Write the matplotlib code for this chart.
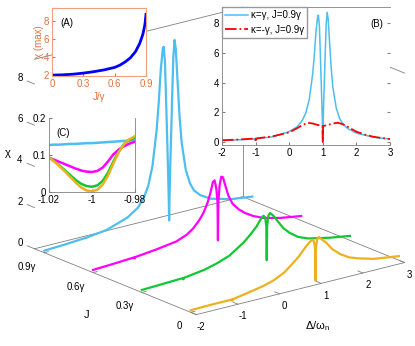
import matplotlib
matplotlib.use('Agg')
import matplotlib.pyplot as plt

plt.rcParams['font.family'] = ['Liberation Sans', 'DejaVu Sans']
plt.rcParams['axes.unicode_minus'] = False
plt.rcParams['mathtext.fontset'] = 'custom'
plt.rcParams['mathtext.rm'] = 'Liberation Sans'

# --- waterfall curves, chi vs detuning for four couplings J ---
J_levels = [0.9, 0.6, 0.3, 0.0]
colors = ['#4DBEEE', '#FF00FF', '#12C832', '#EDB120']

d_j09 = [-2, -1.5, -1.01, -1.0, -0.99, -0.5, 0, 0.25, 0.4, 0.5, 0.6, 0.7, 0.75, 0.8, 0.85,
         0.87, 0.9, 0.94, 0.97, 0.99, 1.0, 1.01, 1.03, 1.07, 1.1, 1.13, 1.16, 1.2, 1.25, 1.3,
         1.4, 1.5, 1.6, 1.75, 2.0, 2.5, 3.0]
chi_j09 = [0.1, 0.15, 0.22, 0.2, 0.22, 0.35, 0.7, 1.05, 1.5, 2.0, 2.9, 4.6, 5.9, 7.5, 8.5,
           8.55, 7.8, 5.0, 2.8, 1.2, 0.05, 1.2, 2.9, 5.8, 7.9, 8.75, 8.3, 6.8, 5.0, 3.7,
           2.3, 1.6, 1.2, 0.9, 0.6, 0.33, 0.2]

d_j06 = [-2, -1.5, -1.01, -1.0, -0.99, -0.5, 0, 0.25, 0.4, 0.55, 0.65, 0.75, 0.82, 0.88, 0.92,
         0.96, 0.99, 1.0, 1.01, 1.04, 1.08, 1.12, 1.18, 1.25, 1.35, 1.5, 1.65, 1.85, 2.1, 2.5, 3.0]
chi_j06 = [0.13, 0.18, 0.24, 0.18, 0.24, 0.35, 0.5, 0.7, 0.92, 1.25, 1.55, 2.0, 2.45, 2.95, 3.0,
           2.6, 1.9, 0.05, 1.9, 2.7, 3.1, 3.05, 2.6, 2.1, 1.65, 1.3, 1.05, 0.8, 0.58, 0.38, 0.22]

d_j03 = [-2, -1.5, -1.01, -1.0, -0.99, -0.5, -0.2, 0.1, 0.45, 0.6, 0.75, 0.85, 0.92, 0.96, 0.99,
         1.0, 1.01, 1.04, 1.08, 1.15, 1.25, 1.4, 1.55, 1.75, 2.0, 2.5, 3.0]
chi_j03 = [0.12, 0.16, 0.2, 0.13, 0.2, 0.34, 0.5, 0.72, 1.2, 1.48, 1.8, 2.1, 2.25, 2.15, 1.7,
           0.05, 1.7, 2.2, 2.3, 2.15, 1.85, 1.4, 1.1, 0.8, 0.6, 0.38, 0.22]

d_j00 = [-2, -1.5, -1.01, -1.0, -0.99, -0.5, -0.25, 0, 0.25, 0.4, 0.6, 0.75, 0.85, 0.92, 0.96,
         0.99, 1.0, 1.01, 1.04, 1.08, 1.15, 1.25, 1.4, 1.6, 1.8, 2.0, 2.4, 3.0]
chi_j00 = [0.1, 0.12, 0.12, 0.05, 0.12, 0.3, 0.4, 0.55, 0.8, 1.05, 1.4, 1.75, 1.95, 2.05, 1.95,
           1.6, 0.02, 1.6, 2.05, 2.1, 1.95, 1.75, 1.35, 1.0, 0.75, 0.6, 0.37, 0.2]

# inset B: kappa = -gamma, J = 0.9 gamma
d_red = [-2, -1.5, -1.01, -1.0, -0.99, -0.5, 0, 0.25, 0.4, 0.55, 0.7, 0.85, 0.99, 1.0, 1.01,
         1.15, 1.3, 1.45, 1.6, 1.8, 2.0, 2.25, 2.5, 2.75, 3.0]
chi_red = [0.12, 0.17, 0.24, 0.0, 0.24, 0.38, 0.65, 0.95, 1.15, 1.3, 1.25, 1.15, 1.08, 0.0, 1.08,
           1.15, 1.25, 1.3, 1.2, 0.95, 0.7, 0.5, 0.36, 0.27, 0.2]

# inset A: peak height vs J
J_scan = [0, 0.1, 0.2, 0.3, 0.4, 0.5, 0.6, 0.65, 0.7, 0.75, 0.8, 0.84, 0.87, 0.89, 0.9]
chi_max = [2.0, 2.03, 2.1, 2.22, 2.38, 2.58, 2.85, 3.1, 3.45, 3.9, 4.6, 5.5, 6.5, 7.6, 8.7]

# inset C: zoom near detuning -1
c_delta = [-1.02, -1.0175, -1.015, -1.0125, -1.01, -1.0075, -1.005, -1.0025, -1.0,
           -0.9975, -0.995, -0.9925, -0.99, -0.9875, -0.985, -0.9825, -0.98]
c_j09 = [0.127, 0.128, 0.128, 0.129, 0.13, 0.13, 0.131, 0.132, 0.132,
         0.133, 0.134, 0.135, 0.136, 0.137, 0.138, 0.139, 0.14]
c_j06 = [0.092, 0.087, 0.081, 0.075, 0.069, 0.063, 0.058, 0.055, 0.054,
         0.057, 0.066, 0.083, 0.102, 0.115, 0.124, 0.131, 0.136]
c_j03 = [0.093, 0.083, 0.071, 0.058, 0.045, 0.032, 0.022, 0.016, 0.014,
         0.018, 0.03, 0.053, 0.083, 0.11, 0.13, 0.141, 0.147]
c_j00 = [0.093, 0.082, 0.069, 0.055, 0.04, 0.025, 0.012, 0.004, 0.002,
         0.006, 0.02, 0.045, 0.078, 0.108, 0.13, 0.143, 0.151]

delta_ticks = [-2, -1, 0, 1, 2, 3]
J_ticks = [0, 0.3, 0.6, 0.9]
J_ticklabels = ['0', '0.3γ', '0.6γ', '0.9γ']
chi_ticks = [0, 2, 4, 6, 8]

fig = plt.figure(figsize=(4.15, 3.46), dpi=100)

# main 3d axes, frame drawn by hand to look like the matlab box
ax = fig.add_axes([0.0154, -0.081, 1.0, 1.1994], projection='3d')
ax.set_proj_type('ortho')
xlo, xhi, ylo, yhi, zhi = -2, 3, -0.035, 0.96, 9.2
ax.set_xlim(xlo, xhi)
ax.set_ylim(ylo, yhi)
ax.set_zlim(0, zhi)
ax.set_box_aspect((1, 0.992, 0.756), zoom=0.989)
ax.view_init(elev=18.6, azim=-128.1)
ax.set_axis_off()

edge = dict(color='0.5', lw=0.6, clip_on=False, zorder=1)
ax.plot([xlo, xhi], [ylo, ylo], [0, 0], **edge)
ax.plot([xlo, xlo], [ylo, yhi], [0, 0], **edge)
ax.plot([xlo, xhi, xhi], [yhi, yhi, ylo], [0, 0, 0], **edge)
ax.plot([xhi, xhi], [yhi, yhi], [0, zhi], **edge)
ax.plot([xlo, xhi, xhi], [yhi, yhi, ylo], [zhi, zhi, zhi], **edge)

for d in delta_ticks:
    ax.plot([d, d], [ylo, ylo + 0.03], [0, 0], **edge)
    ax.text(d, ylo - 0.03, -0.5, f'{d:g}', ha='center', va='center', fontsize=7)
for j, lab in zip(J_ticks, J_ticklabels):
    ax.plot([xlo, xlo + 0.1], [j, j], [0, 0], **edge)
    ax.text(xlo - 0.2, j, -0.58, lab, ha='right', va='center', fontsize=7)
for z in chi_ticks:
    ax.plot([xlo, xlo], [yhi, yhi + 0.045], [z, z], **edge)
    ax.text(xlo, yhi + 0.09, z, f'{z:g}', ha='center', va='center', fontsize=7)

ax.text(xlo, yhi + 0.165, 4.1, 'χ', ha='center', va='center', fontsize=8)
ax.text(-2.75, 0.45, -1.2, 'J', ha='center', va='center', fontsize=8)
ax.text(0.9, ylo, -2.0, 'Δ/ω$_\\mathregular{n}$', ha='center', va='center', fontsize=8)

curves = [(d_j09, chi_j09), (d_j06, chi_j06), (d_j03, chi_j03), (d_j00, chi_j00)]
for k, ((d, chi), J, c) in enumerate(zip(curves, J_levels, colors)):
    ax.plot(d, [J] * len(d), chi, color=c, lw=1.6, clip_on=False, zorder=3 + k)

orange = '#E2703A'

# inset A
axA = fig.add_axes([0.1253, 0.7803, 0.2265, 0.1965])
axA.plot(J_scan, chi_max, color='blue', lw=2)
axA.set_xlim(0, 0.9)
axA.set_ylim(1.9, 9.4)
axA.set_xticks(J_ticks)
axA.set_xticklabels(['0', '0.3', '0.6', '0.9'])
axA.set_yticks([2, 4, 6, 8])
for s in axA.spines.values():
    s.set_color('#F0A07C')
    s.set_linewidth(0.8)
axA.tick_params(colors=orange, labelsize=7, direction='in', length=2, pad=2)
axA.set_xlabel('J/γ', color=orange, fontsize=7, labelpad=2)
axA.set_ylabel('χ (max)', color=orange, fontsize=7, labelpad=0)
axA.text(0.16, 0.78, '(A)', transform=axA.transAxes, fontsize=7, ha='center', va='center')

# inset B
axB = fig.add_axes([0.5349, 0.5809, 0.4048, 0.3988])
axB.plot(d_j09, chi_j09, color=colors[0], lw=1.1, label='κ=γ, J=0.9γ')
axB.plot(d_red, chi_red, color='red', lw=1.3, ls='-.', label='κ=-γ, J=0.9γ')
axB.set_xlim(-2, 3)
axB.set_ylim(-0.2, 9.1)
axB.set_xticks(delta_ticks)
axB.set_yticks(chi_ticks)
axB.spines['right'].set_visible(False)
for s in ['left', 'bottom', 'top']:
    axB.spines[s].set_color('0.5')
    axB.spines[s].set_linewidth(0.6)
axB.tick_params(labelsize=7, direction='in', length=2, pad=2, color='0.5', right=True)
axB.legend(loc='upper left', bbox_to_anchor=(0, 1), borderaxespad=0, fontsize=7,
           fancybox=False, edgecolor='0.6', framealpha=1, handlelength=2.3,
           handletextpad=0.3, borderpad=0.35, labelspacing=0.45)
axB.text(0.92, 0.88, '(B)', transform=axB.transAxes, fontsize=7, ha='center', va='center')

# inset C
axC = fig.add_axes([0.1181, 0.4451, 0.2072, 0.2139])
for vals, c in zip([c_j09, c_j06, c_j03, c_j00], colors):
    axC.plot(c_delta, vals, color=c, lw=1.8)
axC.set_xlim(-1.02, -0.98)
axC.set_ylim(0, 0.2)
axC.set_xticks([-1.02, -1.0, -0.98])
axC.set_xticklabels(['-1.02', '-1', '-0.98'])
axC.set_yticks([0, 0.1, 0.2])
axC.set_yticklabels(['0', '0.1', '0.2'])
axC.spines['top'].set_visible(False)
for s in ['left', 'bottom', 'right']:
    axC.spines[s].set_color('0.5')
    axC.spines[s].set_linewidth(0.6)
axC.tick_params(labelsize=7, direction='in', length=2, pad=2, color='0.5')
axC.text(0.16, 0.8, '(C)', transform=axC.transAxes, fontsize=7, ha='center', va='center')

fig.savefig('out.png', dpi=100)
